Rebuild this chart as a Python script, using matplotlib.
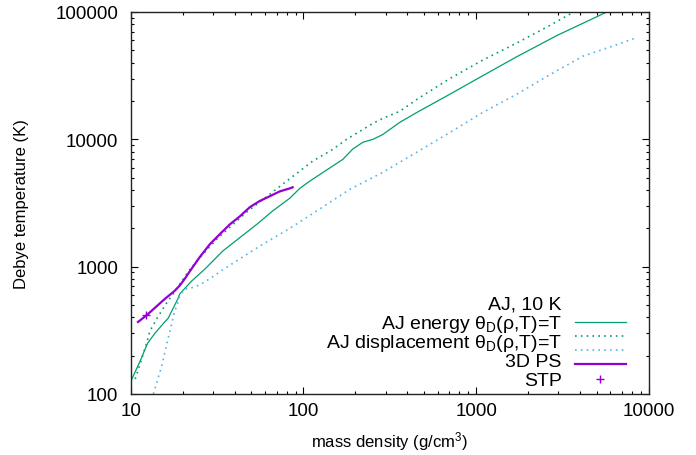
import matplotlib
matplotlib.use("Agg")
import matplotlib.pyplot as plt
from matplotlib.ticker import LogLocator, FuncFormatter, NullFormatter

# AJ, 10 K (solid)
aj10_rho = [10.0, 11.3, 12.5, 13.8, 15.7, 16.4, 18.7, 19.2, 22.5, 26.8, 34.1, 53.7, 66.4,
            83.5, 95.3, 109, 169, 193, 221, 253, 288, 362, 452, 705, 1013, 1720,
            2950, 4900, 5800]
aj10_T = [126, 180, 250, 300, 367, 390, 556, 610, 770, 954, 1326, 2150, 2740,
          3450, 4120, 4700, 6950, 8380, 9480, 10000, 10900, 13600, 16200, 22600, 29800, 44500,
          65500, 90500, 101000]

# AJ energy theta_D(rho,T)=T (dotted green)
energy_rho = [10.6, 11.4, 12.2, 12.9, 14.3, 16.0, 18.7, 21.4, 24, 31.4, 46.9, 80, 113,
              146, 178, 221, 253, 288, 362, 452, 705, 1097, 1720, 2690, 3730]
energy_T = [131, 178, 238, 312, 400, 510, 690, 906, 1100, 1640, 2680, 4700, 6730,
            8250, 10000, 11950, 13350, 14600, 16600, 20500, 30000, 42000, 57000, 78700, 101000]

# AJ displacement theta_D(rho,T)=T (dotted blue)
disp_rho = [13.5, 15.1, 16.4, 17.9, 18.7, 19.2, 20.5, 23.5, 26.8, 36, 55.9, 83.5, 124, 186,
            288, 452, 705, 1097, 1720, 2690, 4170, 6570, 8530]
disp_T = [100, 166, 270, 440, 520, 587, 665, 690, 757, 990, 1450, 2000, 2830, 4050,
          5500, 7900, 11300, 16300, 22600, 32300, 45000, 55500, 63000]

# 3D PS (purple)
ps_rho = [11.0, 12.4, 15.7, 17.9, 19.2, 20.5, 22.0, 25.1, 28.7, 32.8, 37.5, 42.8, 48.9,
          55.9, 63.8, 73, 83.5, 86.6]
ps_T = [367, 417, 556, 643, 710, 800, 922, 1190, 1500, 1800, 2150, 2480, 2930,
        3280, 3570, 3900, 4120, 4200]

# STP point
stp_rho = [12.2]
stp_T = [415]

labels = ["AJ, 10 K", r"AJ energy θ$_D$(ρ,T)=T", r"AJ displacement θ$_D$(ρ,T)=T",
          "3D PS", "STP"]

plt.rcParams["font.family"] = ["Liberation Sans", "DejaVu Sans"]
plt.rcParams["mathtext.default"] = "regular"
plt.rcParams["font.size"] = 12

fig = plt.figure(figsize=(6.96, 4.56), dpi=100)
ax = fig.add_axes([0.188, 0.134, 0.744, 0.8375])

green = "#009e73"
blue = "#56b4e9"
purple = "#9400d3"

h1, = ax.plot(aj10_rho, aj10_T, color=green, lw=0.9)
h2, = ax.plot(energy_rho, energy_T, color=green, lw=1.2, ls=(0, (1, 2.5)))
h3, = ax.plot(disp_rho, disp_T, color=blue, lw=1.2, ls=(0, (1, 2.5)))
h4, = ax.plot(ps_rho, ps_T, color=purple, lw=1.6)
h5, = ax.plot(stp_rho, stp_T, color=purple, ls="none", marker="+", ms=6, mew=1.0)

ax.set_xscale("log")
ax.set_yscale("log")
ax.set_xlim(10, 10000)
ax.set_ylim(100, 100000)

fmt = FuncFormatter(lambda v, p: f"{v:.0f}")
for axis in (ax.xaxis, ax.yaxis):
    axis.set_major_locator(LogLocator(base=10))
    axis.set_minor_locator(LogLocator(base=10, subs=range(2, 10)))
    axis.set_major_formatter(fmt)
    axis.set_minor_formatter(NullFormatter())

ax.tick_params(which="both", direction="in", top=True, right=True, width=0.8,
               labelsize=13.5)
ax.tick_params(which="major", length=5)
ax.tick_params(which="minor", length=2.5)
ax.tick_params(axis="x", which="major", pad=6)
ax.tick_params(axis="y", which="major", pad=9)
for s in ax.spines.values():
    s.set_linewidth(1.0)
    s.set_color("#222222")

ax.set_xlabel("mass density (g/cm$^3$)", labelpad=7)
ax.set_ylabel("Debye temperature (K)", labelpad=19)

# gnuplot-style key: samples from a legend, labels right-aligned next to them
ax.legend([h1, h2, h3, h4, h5], [""] * 5, loc="lower right",
          bbox_to_anchor=(0.9556, 0.012), frameon=False, markerfirst=False,
          handlelength=2.63, handletextpad=0, borderpad=0, borderaxespad=0,
          labelspacing=-0.175, fontsize=14)
row_y = [0.2225, 0.1728, 0.1231, 0.0733, 0.0236]
for lab, y in zip(labels, row_y):
    ax.text(0.832, y, lab, ha="right", va="baseline", fontsize=14,
            transform=ax.transAxes)

fig.savefig("out.png", dpi=100)
